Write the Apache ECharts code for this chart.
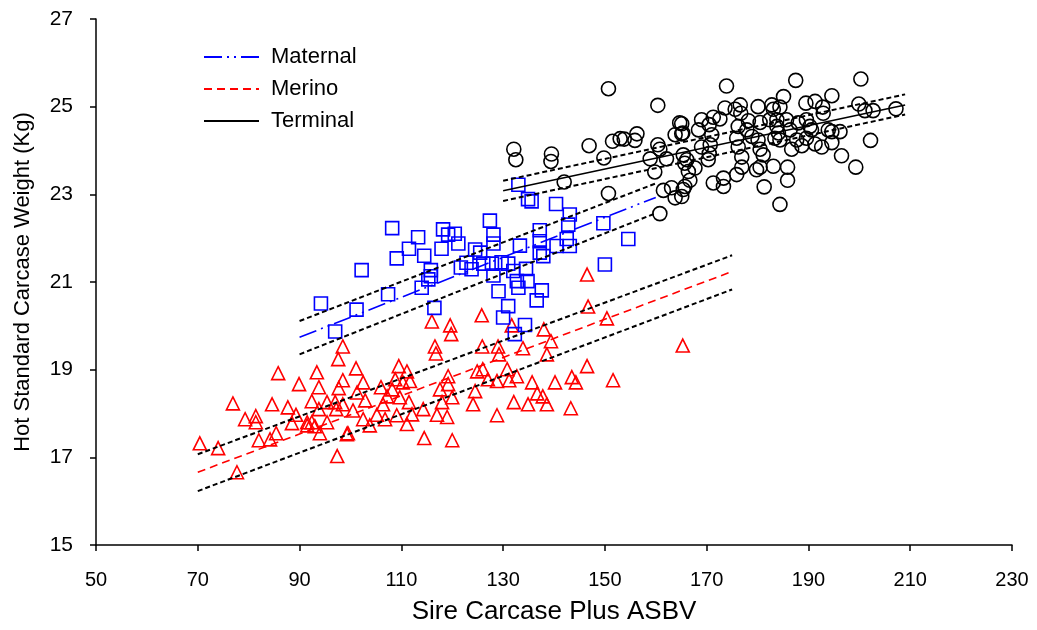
<!DOCTYPE html>
<html>
<head>
<meta charset="utf-8">
<script src="https://cdn.jsdelivr.net/npm/echarts@6/dist/echarts.min.js"></script>
<style>
html,body{margin:0;padding:0;background:#fff;}
#chart{width:1037px;height:630px;}
</style>
</head>
<body>
<div id="chart"></div>
<script>
// ---- axis ticks ----
const xTicks = [50, 70, 90, 110, 130, 150, 170, 190, 210, 230];
const yTicks = [15, 17, 19, 21, 23, 25, 27];

// ---- series names ----
const seriesNames = ['Maternal', 'Merino', 'Terminal'];

// ---- observed points [Sire Carcase Plus ASBV, HSCW kg] ----
const merinoPoints = [
  [70.4,17.32],[74.0,17.21],[77.7,16.66],[76.9,18.23],[79.3,17.87],[81.4,17.94],[81.4,17.80],[82.0,17.39],
  [84.2,17.41],[85.4,17.55],[85.8,18.92],[84.6,18.21],[87.7,18.14],[89.3,17.97],[89.9,18.67],[88.5,17.78],
  [91.5,17.80],[92.4,18.28],[93.4,18.94],[93.8,18.60],[95.4,18.26],[97.4,17.03],[97.6,19.24],[98.5,19.53],
  [98.5,18.76],[97.7,18.58],[97.0,18.26],[98.5,18.21],[93.8,18.10],[95.4,17.80],[92.4,17.80],[91.5,17.73],
  [93.0,17.71],[94.0,17.55],[99.3,17.53],[97.2,18.10],[101.1,19.03],[102.5,18.71],[109.5,19.08],[108.8,18.78],
  [111.1,18.96],[111.7,18.74],[110.3,18.71],[106.0,18.60],[108.2,18.55],[109.7,18.37],[107.2,18.39],[101.3,18.48],
  [102.9,18.30],[100.5,18.07],[106.4,18.21],[111.5,18.26],[105.2,17.97],[109.1,17.96],[112.1,17.98],[114.3,18.10],
  [102.5,17.87],[106.8,17.87],[103.8,17.73],[111.1,17.76],[99.5,17.55],[117.0,17.97],[119.0,17.92],[117.6,18.55],
  [120.0,18.37],[118.0,18.26],[119.2,18.85],[119.2,18.67],[124.5,18.51],[124.1,18.21],[124.9,18.96],[126.0,19.01],
  [127.0,18.78],[128.8,18.74],[130.8,19.01],[128.8,17.96],[114.5,17.44],[120.0,17.39],[116.6,19.53],[116.8,19.37],
  [125.9,19.53],[129.0,19.53],[129.2,19.35],[146.5,21.17],[146.7,20.44],[150.4,20.17],[131.7,20.01],[138.0,19.92],
  [139.4,19.65],[133.9,19.49],[138.6,19.35],[165.3,19.55],[146.5,19.08],[132.7,18.85],[131.2,18.76],[135.7,18.71],
  [140.2,18.71],[143.5,18.83],[144.3,18.71],[151.6,18.76],[136.7,18.46],[137.8,18.39],[132.1,18.26],[134.9,18.21],
  [138.6,18.21],[143.3,18.12],[125.8,20.24],[119.6,20.01],[119.8,19.81],[116.0,20.10]
];
const maternalPoints = [
  [94.2,20.51],[101.2,20.37],[97.0,19.87],[102.2,21.27],[108.2,22.23],[109.1,21.54],[111.5,21.76],[113.3,22.02],
  [114.5,21.60],[118.2,22.20],[117.9,21.76],[107.4,20.72],[114.0,20.87],[115.8,21.27],[115.8,21.13],[115.3,21.06],
  [116.5,20.41],[119.2,22.08],[133.0,23.22],[134.9,22.89],[135.6,22.84],[140.4,22.78],[143.1,22.54],[127.4,22.40],
  [120.5,22.10],[121.2,21.88],[128.1,22.08],[128.1,21.88],[137.2,22.18],[142.8,22.31],[149.7,22.34],[154.6,21.98],
  [133.3,21.83],[137.2,21.93],[140.5,21.82],[142.5,21.98],[143.1,21.82],[124.5,21.74],[125.5,21.67],[137.2,21.67],
  [137.9,21.59],[122.8,21.44],[123.8,21.29],[126.1,21.42],[127.8,21.42],[129.7,21.45],[131.0,21.42],[128.1,21.15],
  [132.0,21.25],[134.5,21.30],[132.7,21.02],[134.8,21.02],[133.0,20.87],[129.1,20.79],[137.6,20.81],[136.6,20.58],
  [150.0,21.40],[131.0,20.45],[130.0,20.19],[134.3,20.02],[132.3,19.81],[121.7,21.33]
];
const terminalPoints = [
  [150.7,25.41],[160.4,25.03],[165.1,24.61],[165.1,24.38],[156.3,24.38],[155.9,24.23],[153.8,24.26],[153.0,24.27],
  [151.5,24.21],[146.9,24.11],[132.1,24.03],[132.5,23.79],[139.5,23.92],[139.4,23.75],[149.8,23.83],[160.4,24.13],
  [160.8,24.03],[158.9,23.81],[162.1,23.81],[165.4,23.90],[165.7,23.71],[159.8,23.51],[142.0,23.28],[150.7,23.02],
  [161.5,23.09],[163.1,23.15],[163.8,22.92],[165.4,23.11],[160.8,22.56],[163.8,24.36],
  [173.9,25.47],[187.5,25.60],[200.3,25.63],[185.1,25.23],[194.6,25.25],[189.5,25.08],[191.3,25.12],[192.8,24.99],
  [192.9,24.85],[199.9,25.06],[201.1,24.91],[202.7,24.91],[207.2,24.95],[164.7,24.63],[165.3,24.40],[169.0,24.70],
  [171.3,24.76],[172.6,24.72],[173.6,24.97],[175.6,24.94],[176.6,25.04],[176.7,24.85],[180.1,25.00],[182.8,25.04],
  [183.1,24.94],[184.4,24.99],[168.4,24.47],[170.5,24.59],[171.0,24.36],[170.7,24.13],[170.5,23.93],[170.3,23.79],
  [169.0,24.08],[166.1,23.79],[167.7,23.60],[166.4,23.52],[166.7,23.32],[165.7,23.18],[165.1,22.95],[171.3,23.26],
  [173.3,23.37],[173.3,23.18],[175.9,23.45],[176.9,23.62],[176.9,23.85],[176.2,24.08],[175.9,24.28],[176.2,24.55],
  [178.2,24.68],[177.9,24.47],[178.9,24.32],[180.1,24.24],[180.5,24.03],[181.1,23.90],[179.8,23.56],[180.5,23.62],
  [181.3,23.17],[180.5,24.64],[182.4,24.70],[183.8,24.70],[183.8,24.55],[183.4,24.28],[184.4,24.24],[184.1,24.40],
  [183.1,23.64],[184.4,22.77],[185.9,23.62],[185.9,23.32],[186.4,24.47],[186.7,24.03],[185.7,24.70],[188.0,24.63],
  [187.7,24.24],[188.7,24.11],[189.6,24.70],[190.3,24.55],[190.6,24.47],[189.6,24.28],[191.3,24.15],[192.6,24.08],
  [193.9,24.47],[194.6,24.43],[196.2,24.43],[194.6,24.18],[196.5,23.88],[199.3,23.62],[202.2,24.23]
];

// ---- fitted regression lines and confidence bands (end points) ----
const maternalFit   = [[90, 19.74], [160, 22.93]];
const maternalUpper = [[90, 20.11], [160, 23.25]];
const maternalLower = [[90, 19.35], [160, 22.57]];
const merinoFit     = [[70, 16.66], [175, 21.24]];
const merinoUpper   = [[70, 17.07], [175, 21.61]];
const merinoLower   = [[70, 16.23], [175, 20.83]];
const terminalFit   = [[130, 23.08], [209, 25.04]];
const terminalUpper = [[130, 23.31], [209, 25.28]];
const terminalLower = [[130, 22.85], [209, 24.82]];

const FONT = '"Liberation Sans", Arial, sans-serif';

function scatter(name, data, symbol, color, size) {
  return {
    type: 'scatter', name: name + ' pts', data: data, symbol: symbol, symbolSize: size,
    itemStyle: { color: 'rgba(0,0,0,0)', borderColor: color, borderWidth: 1.6, opacity: 1 },
    emphasis: { disabled: true }, z: 2
  };
}
function line(name, data, color, width, type) {
  return {
    type: 'line', name: name, data: data, symbol: 'none', showSymbol: false,
    lineStyle: { color: color, width: width, type: type },
    itemStyle: { color: 'rgba(0,0,0,0)', borderWidth: 0, opacity: 0 },
    emphasis: { disabled: true }, z: 3, animation: false
  };
}

const ciDash = [5, 3];

const option = {
  animation: false,
  backgroundColor: '#fff',
  grid: { left: 96, right: 25, top: 19, bottom: 84, containLabel: false },
  legend: {
    data: seriesNames,
    orient: 'vertical', left: 198, top: 41,
    itemWidth: 55, itemHeight: 14, itemGap: 10,
    itemStyle: { opacity: 0, borderWidth: 0 },
    textStyle: { fontFamily: FONT, fontSize: 22, color: '#000', padding: [0, 0, 0, 7] },
    selectedMode: false
  },
  xAxis: {
    type: 'value', min: xTicks[0], max: xTicks[xTicks.length - 1], interval: 20,
    name: 'Sire Carcase Plus ASBV', nameLocation: 'middle', nameGap: 54,
    nameTextStyle: { fontFamily: FONT, fontSize: 26, color: '#000' },
    axisLine: { lineStyle: { color: '#000', width: 1.5 } },
    axisTick: { inside: false, length: 6, lineStyle: { color: '#000', width: 1.5 } },
    axisLabel: { fontFamily: FONT, fontSize: 20, color: '#000', margin: 25 },
    splitLine: { show: false }
  },
  yAxis: {
    type: 'value', min: yTicks[0], max: yTicks[yTicks.length - 1], interval: 2,
    name: 'Hot Standard Carcase Weight (Kg)', nameLocation: 'middle', nameGap: 62,
    nameTextStyle: { fontFamily: FONT, fontSize: 22, color: '#000' },
    axisLine: { show: true, lineStyle: { color: '#000', width: 1.5 } },
    axisTick: { show: true, inside: false, length: 6, lineStyle: { color: '#000', width: 1.5 } },
    axisLabel: { fontFamily: FONT, fontSize: 21, color: '#000', margin: 23 },
    splitLine: { show: false }
  },
  series: [
    scatter('Merino', merinoPoints, 'triangle', '#ff0000', 13),
    scatter('Maternal', maternalPoints, 'rect', '#0000ff', 13),
    scatter('Terminal', terminalPoints, 'circle', '#000000', 14),
    line('Maternal', maternalFit, '#0000ff', 1.6, [18, 5, 2, 5, 2, 5]),
    line('Merino', merinoFit, '#ff0000', 1.6, [8, 5]),
    line('Terminal', terminalFit, '#000000', 1.6, 'solid'),
    line('mu', maternalUpper, '#000', 2, ciDash),
    line('ml', maternalLower, '#000', 2, ciDash),
    line('eu', merinoUpper, '#000', 2, ciDash),
    line('el', merinoLower, '#000', 2, ciDash),
    line('tu', terminalUpper, '#000', 2, ciDash),
    line('tl', terminalLower, '#000', 2, ciDash)
  ]
};

const chart = echarts.init(document.getElementById('chart'), null, { renderer: 'canvas' });
chart.setOption(option);
</script>
</body>
</html>
